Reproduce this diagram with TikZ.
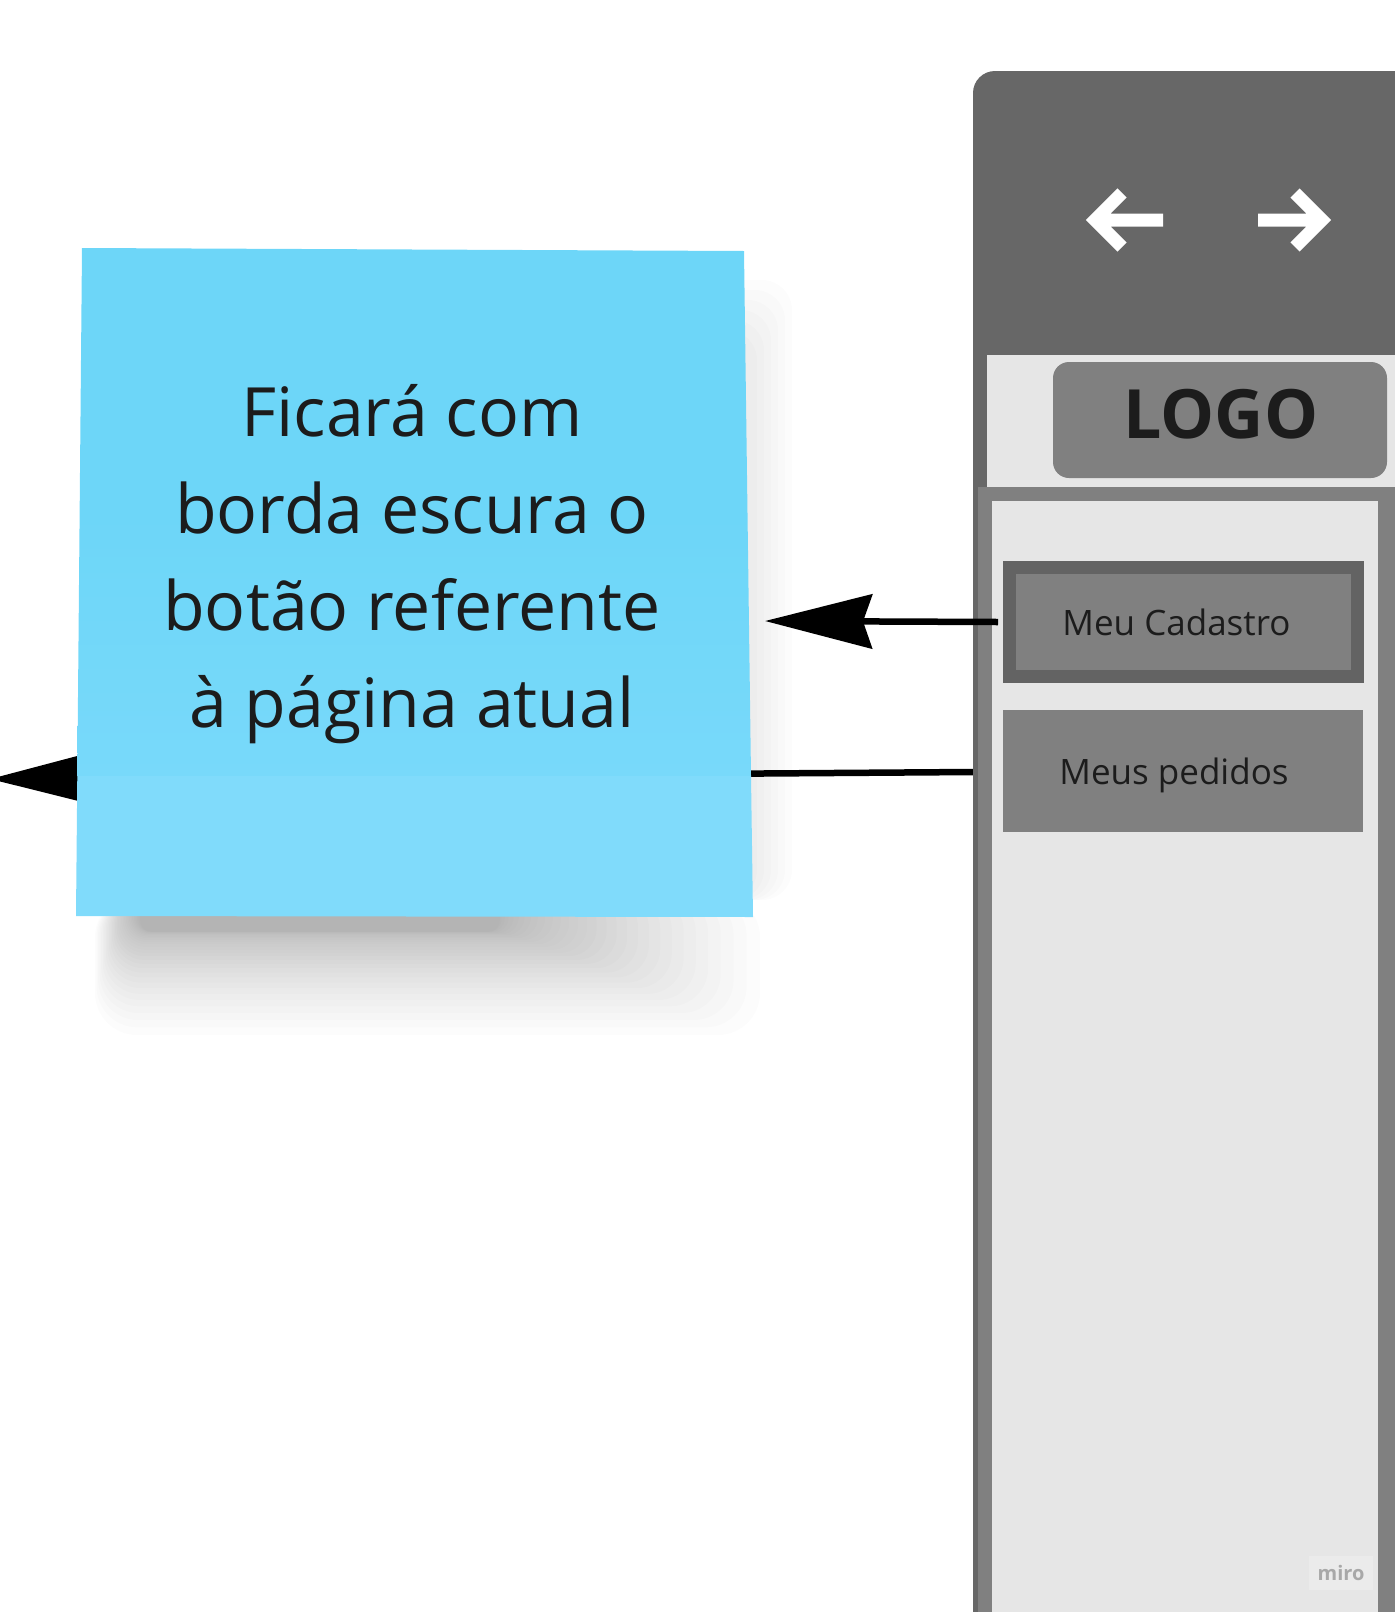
\documentclass[tikz,border=0pt]{standalone}
\usepackage{fontspec}
\setmainfont{Open Sans}
\usetikzlibrary{arrows.meta}
\definecolor{paneldark}{HTML}{676767}
\definecolor{panelmid}{HTML}{808080}
\definecolor{panellight}{HTML}{E6E6E6}
\definecolor{btnborder}{HTML}{636363}
\definecolor{notetop}{HTML}{6DD6F8}
\definecolor{notemid}{HTML}{78D9FA}
\definecolor{notebot}{HTML}{80DBFB}
\definecolor{ink}{HTML}{1C1C1C}
\definecolor{wmbox}{HTML}{EBEBEB}
\definecolor{wmtext}{HTML}{A8A8A8}
\begin{document}
\begin{tikzpicture}[x=1pt,y=-1pt,
  conn/.style={draw=black, line width=6.5pt},
  bigtip/.style={-{Stealth[length=107pt,width=54pt,inset=9pt]}},
  navarrow/.style={draw=white, line width=13pt, miter limit=4},
  menubtn/.style={rectangle, fill=panelmid, minimum width=360pt, minimum height=122pt, inner sep=0pt, text=ink, font=\fontsize{35}{42}\selectfont},
  notetext/.style={align=center, text=ink, font=\fontsize{68}{97}\selectfont}
]
\useasboundingbox (0,0) rectangle (1395,1612);
\clip (0,0) rectangle (1395,1612);

% soft shadow of the sticky note
\foreach \k in {0,...,29}{
  \pgfmathsetmacro{\u}{1-\k/29}
  \pgfmathsetmacro{\sl}{95+45*(1-\u)}
  \pgfmathsetmacro{\sr}{500+260*\u^1.5}
  \pgfmathsetmacro{\sb}{932+103*\u^2.2}
  \pgfmathsetmacro{\sc}{12+30*\u}
  \fill[black, opacity=0.012, rounded corners=\sc pt] (\sl,895) rectangle (\sr,\sb);
}
\foreach \k in {0,...,5}{
  \fill[black, opacity=0.012, rounded corners=30pt] (700,{280+10*\k}) rectangle ({792-7*\k},900);
}

% coordinates of the connectors' free ends
\coordinate (panelW) at (973,772);
\coordinate (tipB) at (-10,779);
\coordinate (tipA) at (765,621);

% lower connector, passing behind the note
\draw[conn, bigtip] (panelW) -- (tipB);

% sticky note
\coordinate (nTL) at (82,248);
\coordinate (nTR) at (744,251);
\coordinate (nBR) at (753,917);
\coordinate (nBL) at (76,916);
\shade[top color=notetop, bottom color=notemid, middle color=notetop] (nTL) -- (nTR) -- (751,776) -- (77.3,776) -- cycle;
\fill[notebot] (77.3,776) -- (751,776) -- (nBR) -- (nBL) -- cycle;
\node[notetext] (note) at (412,564) {Ficará com\\borda escura o\\botão referente\\à página atual};

% side panel
\fill[paneldark, rounded corners=22pt] (973,71) rectangle (1440,1660);
\fill[panellight] (987,355) rectangle (1440,487);
\node[rectangle, fill=panelmid, rounded corners=16pt, minimum width=334pt, minimum height=116pt, inner sep=0pt] (logobox) at (1220,420) {};
\node[text=ink, font=\fontsize{68}{80}\bfseries, inner sep=0pt] (logo) at (1221,414) {LOGO};
\fill[panelmid] (978,487) rectangle (1440,1660);
\fill[panellight] (992,501) rectangle (1378,1660);

% navigation arrows
\draw[navarrow] (1163,220) -- (1095,220) (1122,193) -- (1095,220) -- (1122,247);
\draw[navarrow] (1258,220) -- (1322,220) (1295,193) -- (1322,220) -- (1295,247);

% menu buttons
\node[menubtn, draw=btnborder, line width=13pt, minimum width=348pt, minimum height=109pt] (cad) at (1183.5,622) {Meu Cadastro\kern14pt};
\node[menubtn, text depth=0pt] (peds) at (1183,771) {Meus pedidos\kern18pt};

% upper connector
\draw[conn, bigtip] ([xshift=-5pt]cad.west) -- (tipA);

% watermark
\node[rectangle, fill=wmbox, minimum width=64pt, minimum height=34pt, inner sep=0pt, text=wmtext, font=\fontsize{20}{24}\bfseries] (miro) at (1341,1573) {miro};
\end{tikzpicture}
\end{document}
